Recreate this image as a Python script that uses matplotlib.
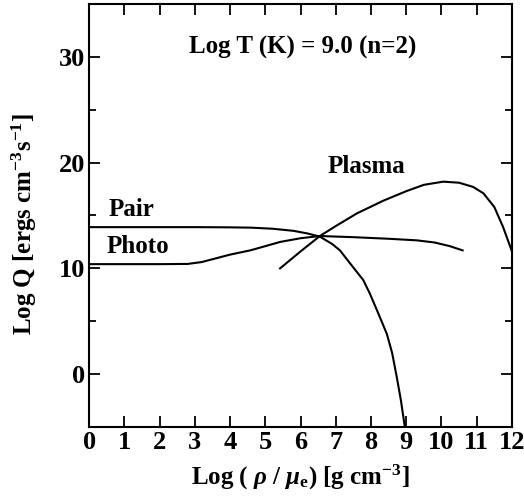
# Emission rates vs density at fixed temperature: pair, photo and plasma processes
import matplotlib
matplotlib.use('Agg')
import matplotlib.pyplot as plt
from matplotlib.ticker import MultipleLocator

plt.rcParams['font.family'] = ['Liberation Serif', 'DejaVu Serif']
plt.rcParams['font.weight'] = 'bold'
plt.rcParams['mathtext.fontset'] = 'custom'
plt.rcParams['mathtext.rm'] = 'Liberation Serif:bold'
plt.rcParams['mathtext.bf'] = 'Liberation Serif:bold'
plt.rcParams['mathtext.it'] = 'Liberation Serif:italic'

# curves digitised as (log rho/mu_e, log Q)
pair_x = [0, 1, 2, 3, 4, 4.6, 5.2, 5.8, 6.2, 6.55, 6.9, 7.12, 7.4, 7.78, 7.97,
          8.2, 8.45, 8.6, 8.73, 8.85, 8.96]
pair_y = [13.9, 13.9, 13.9, 13.9, 13.88, 13.85, 13.75, 13.55, 13.3, 13.0, 12.3,
          11.7, 10.5, 8.9, 7.6, 5.8, 3.8, 2.0, -0.25, -2.5, -5.0]

photo_x = [0, 1, 2, 2.8, 3.2, 3.6, 4.0, 4.57, 5.0, 5.42, 6.0, 6.55, 7.5, 8.5,
           9.3, 9.8, 10.24, 10.6]
photo_y = [10.4, 10.4, 10.4, 10.42, 10.6, 10.95, 11.3, 11.7, 12.1, 12.5, 12.85,
           13.06, 12.95, 12.8, 12.65, 12.45, 12.1, 11.7]

plasma_x = [5.42, 6.0, 6.55, 7.0, 7.6, 8.35, 9.0, 9.5, 10.05, 10.5, 10.9, 11.19,
            11.5, 11.75, 12.0]
plasma_y = [10.0, 11.6, 13.06, 14.0, 15.2, 16.4, 17.3, 17.9, 18.2, 18.1, 17.7,
            17.1, 15.8, 13.9, 11.6]

fig = plt.figure(figsize=(5.24, 5.0), dpi=100)
ax = fig.add_axes([0.170, 0.146, 0.807, 0.846])

for xs, ys in [(pair_x, pair_y), (photo_x, photo_y), (plasma_x, plasma_y)]:
    ax.plot(xs, ys, color='black', lw=1.5)

ax.set_xlim(0, 12)
ax.set_ylim(-5, 35)
ax.xaxis.set_major_locator(MultipleLocator(1))
ax.yaxis.set_major_locator(MultipleLocator(10))
ax.yaxis.set_minor_locator(MultipleLocator(5))
ax.tick_params(which='both', direction='in', top=True, right=True,
               labelsize=19, width=1.3)
ax.tick_params(which='major', length=8, pad=3)
ax.tick_params(which='minor', length=5)
for lab in ax.get_xticklabels() + ax.get_yticklabels():
    lab.set_fontweight('bold')
for sp in ax.spines.values():
    sp.set_linewidth(1.5)

ax.text(6.07, 30.85, 'Log T (K) = 9.0 (n=2)', fontsize=18, fontweight='bold',
        ha='center', va='center')
ax.text(0.55, 15.6, 'Pair', fontsize=18, fontweight='bold', va='center')
ax.text(0.5, 12.1, 'Photo', fontsize=18, fontweight='bold', va='center')
ax.text(6.78, 19.6, 'Plasma', fontsize=18, fontweight='bold', va='center')

ax.set_xlabel(r'Log ( $\rho$ / $\mu_{\mathbf{e}}$) [g cm$^{\mathbf{-3}}$]',
              fontsize=18, fontweight='bold', labelpad=6)
ax.set_ylabel(r'Log Q [ergs cm$^{\mathbf{-3}}$s$^{\mathbf{-1}}$]',
              fontsize=18, fontweight='bold')
ax.yaxis.set_label_coords(-0.118, 0.48)

fig.savefig('out.png', dpi=100)
